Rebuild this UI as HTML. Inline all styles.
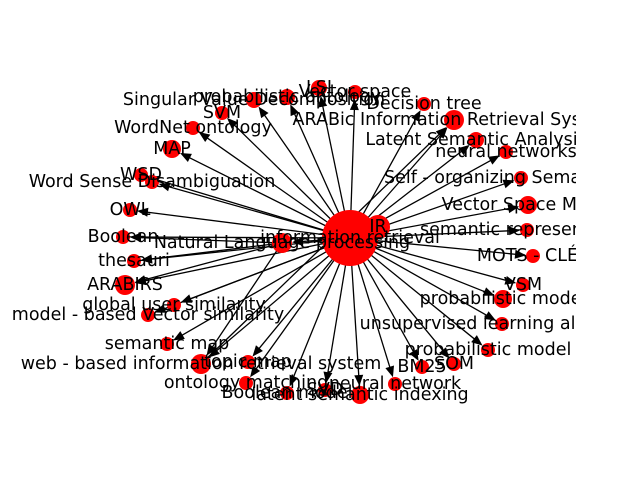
<!DOCTYPE html>
<html><head><meta charset="utf-8"><style>
body{margin:0;background:#fff}
svg{display:block}
text{font-family:"DejaVu Sans","Liberation Sans",sans-serif;font-size:17.5px;fill:#000;text-anchor:middle;dominant-baseline:central}
</style></head><body>
<svg id="g" width="640" height="480"><defs><clipPath id="cp"><rect x="-100" y="0" width="676" height="480"/></clipPath></defs><g id="root" clip-path="url(#cp)"></g></svg>
<script>
const labels=["Singular Value Decomposition","probabilistic ontology","SVM","LSI","Vector space","Decision tree","ARABic Information Retrieval System","Latent Semantic Analysis","neural networks","Self - organizing Semantic map","Vector Space Model","semantic representation","MOTS - CLÉS","VSM","probabilistic model","unsupervised learning algorithm","probabilistic model","SOM","BM25","neural network","latent semantic indexing","SVD","Boolean model","ontology matching","topic map","web - based information retrieval system","semantic map","model - based Vector similarity","global user similarity","ARABIRS","thesauri","Boolean","OWL","Word Sense Disambiguation","WSD","MAP","WordNet ontology"];
const nx=[254,287,222,319,355,424,454,476,506,521,528,527,533,523,503,502,488,454,422,395,360,325,287,246,248,201,167,148,174,125,134,123,130,152,141,172,193];
const ny=[100,97,113,88,92,104,120,140,152,178,205,230,256,285,299,324,350,364,367,384,395,390,393,383,362,364,344,315,305,285,261,237,210,182,175,149,128];
const nr=[8,8,7,8,7,7,10,8,7,7,9,7,7,7,9,7,7,7,7,7,9,7,7,7,7,10,7,7,7,10,7,7,7,7,7,9,7];
const hub={x:350,y:238,r:28,label:"information retrieval"};
const ir={x:378,y:227,r:12,label:"IR"};
const nlp={x:282,y:243,r:10,label:"Natural Language processing"};
const extraFrom=[2,2,2,2,25];
const extraTo=[29,30,31,25,6];
const svg=document.getElementById('root');
const NS="http://www.w3.org/2000/svg";
function mk(t,a){const e=document.createElementNS(NS,t);for(const k in a)e.setAttribute(k,a[k]);svg.appendChild(e);return e;}
const all=labels.map((l,i)=>({x:nx[i],y:ny[i],r:nr[i],label:l}));
function edge(a,b){
  const dx=b.x-a.x,dy=b.y-a.y,d=Math.hypot(dx,dy),ux=dx/d,uy=dy/d;
  const ex=b.x-ux*b.r,ey=b.y-uy*b.r;
  const l=mk('line',{x1:a.x,y1:a.y,x2:ex-ux*6,y2:ey-uy*6,stroke:'#000','stroke-width':1.3});
  
  
  const bx=ex-ux*11,by=ey-uy*11,px=-uy*4.5,py=ux*4.5;
  const p=mk('polygon',{points:`${ex},${ey} ${bx+px},${by+py} ${bx-px},${by-py}`,fill:'#000'});
  
  
}
all.forEach(n=>edge(hub,n));
edge(hub,ir);edge(hub,nlp);
const src=i=>i===2?nlp:all[i];
extraFrom.forEach((f,k)=>edge(src(f),all[extraTo[k]]));
[...all,nlp,ir,hub].forEach(n=>{
  const c=mk('circle',{cx:n.x,cy:n.y,r:n.r,fill:'#f00'});
  
  
});
[...all,nlp,ir,hub].forEach(n=>{
  const t=mk('text',{x:n.x,y:n.y});t.textContent=n.label;
  
  
});
</script>
</body></html>
